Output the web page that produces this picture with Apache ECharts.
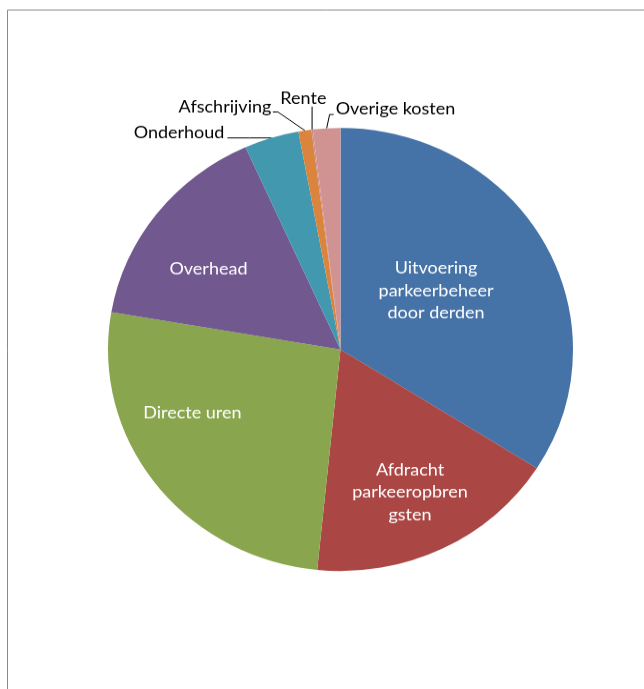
<!DOCTYPE html>
<html>
<head>
<meta charset="utf-8">
<script src="https://cdn.jsdelivr.net/npm/echarts@6/dist/echarts.min.js"></script>
<style>
html, body { margin: 0; padding: 0; background: #fff; overflow: hidden; }
#wrap { width: 644px; height: 689px; overflow: hidden; position: relative; }
#c { width: 644px; height: 723px; transform: scaleY(0.95297); transform-origin: 0 0; }
</style>
</head>
<body>
<div id="wrap"><div id="c"></div></div>
<script>
// ---- data ----
const categories = ['Uitvoering parkeerbeheer door derden', 'Afdracht parkeeropbrengsten', 'Directe uren', 'Overhead', 'Onderhoud', 'Afschrijving', 'Rente', 'Overige kosten'];
const labelTexts = ['Uitvoering\nparkeerbeheer\ndoor derden', 'Afdracht\nparkeeropbren\ngsten', 'Directe uren', 'Overhead', 'Onderhoud', 'Afschrijving', 'Rente', 'Overige kosten'];
const values = [34.0, 17.6, 26.1, 15.6, 3.8, 0.9, 0.1, 1.9];

// ---- styles ----
const colors = ['#4572A7', '#AA4643', '#89A54E', '#71588F', '#4198AF', '#DB843D', '#C98E8C', '#D19392'];
// inside label anchors as fractions of the radius from the centre
const insidePos = { 0: [0.411, -0.265], 1: [0.299, 0.643], 2: [-0.637, 0.286], 3: [-0.568, -0.363] };
// outside label placement relative to the slice edge point (px)
const outsidePos = {
  4: { a: [-22, 0], b: [-44, 0], t: [-47, -5.7], align: 'right' },
  5: { a: [-27, -19.5], b: [-32, -19.5], t: [-33.5, -24.8], align: 'right' },
  6: { a: [0, -12], b: [0, -24], t: [-8.7, -33.2], align: 'center' },
  7: { a: [3, -14.5], b: [7, -14.5], t: [9, -20.5], align: 'left' }
};
const FONT = 'Lato, "Open Sans", sans-serif';

const chart = echarts.init(document.getElementById('c'), null, { renderer: 'canvas' });

const data = categories.map((name, i) => {
  const inside = insidePos[i] !== undefined;
  return {
    name: name,
    value: values[i],
    itemStyle: { color: colors[i] },
    label: {
      show: true,
      position: inside ? 'inside' : 'outside',
      formatter: labelTexts[i],
      color: inside ? '#ffffff' : '#000000',
      fontFamily: FONT,
      fontSize: 18,
      lineHeight: 23.5
    },
    labelLine: inside ? { show: false } : { show: true, length: 10, length2: 10, smooth: false, lineStyle: { color: '#000', width: 1 } }
  };
});

chart.setOption({
  animation: false,
  backgroundColor: '#ffffff',
  graphic: [{
    type: 'polyline',
    shape: { points: [[7.5, 900], [7.5, 10.5], [900, 10.5]] },
    style: { fill: 'none', stroke: '#8a8a8a', lineWidth: 1 },
    silent: true
  }],
  series: [{
    type: 'pie',
    center: [340.5, 366.7],
    radius: 232.5,
    startAngle: 90,
    clockwise: true,
    avoidLabelOverlap: false,
    minShowLabelAngle: 0,
    itemStyle: { borderWidth: 0 },
    emphasis: { disabled: true },
    data: data,
    labelLayout: function (p) {
      const i = p.dataIndex;
      const L = chart.getModel().getSeriesByIndex(0).getData().getItemLayout(i);
      const mid = (L.startAngle + L.endAngle) / 2;
      if (insidePos[i]) {
        return {
          x: L.cx + insidePos[i][0] * L.r,
          y: L.cy + insidePos[i][1] * L.r,
          align: 'center',
          verticalAlign: 'middle'
        };
      }
      const ex = L.cx + L.r * Math.cos(mid);
      const ey = L.cy + L.r * Math.sin(mid);
      const o = outsidePos[i];
      return {
        x: ex + o.t[0],
        y: ey + o.t[1],
        align: o.align,
        verticalAlign: 'middle',
        labelLinePoints: [[ex, ey], [ex + o.a[0], ey + o.a[1]], [ex + o.b[0], ey + o.b[1]]]
      };
    }
  }]
});
</script>
</body>
</html>
